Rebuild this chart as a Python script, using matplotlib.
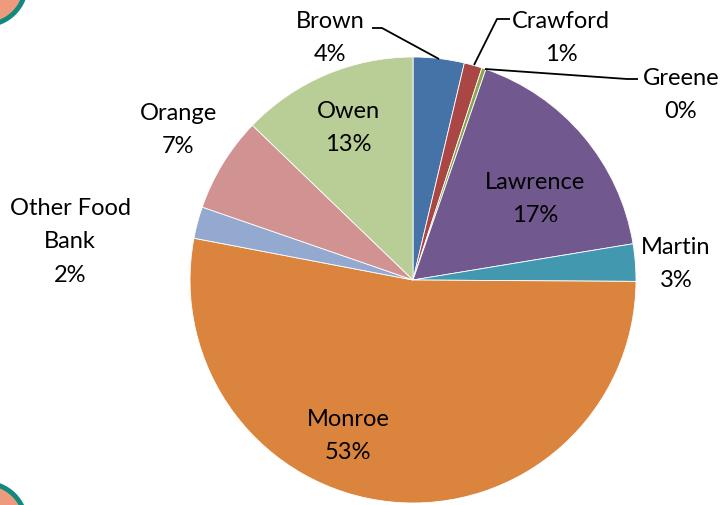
import matplotlib
matplotlib.use("Agg")
import matplotlib.pyplot as plt
from matplotlib.patches import Circle

plt.rcParams['font.family'] = ['Lato', 'DejaVu Sans']

# ---- data ----
categories = ["Brown", "Crawford", "Greene", "Lawrence", "Martin",
              "Monroe", "Other Food\nBank", "Orange", "Owen"]
shares = [3.7, 1.3, 0.3, 17.1, 2.7, 52.9, 2.3, 6.9, 12.8]
pct_labels = ["4%", "1%", "0%", "17%", "3%", "53%", "2%", "7%", "13%"]
colors = ["#4572A7", "#AA4643", "#89A54E", "#71588F", "#4198AF",
          "#DB843D", "#93A9CF", "#D19392", "#B9CD96"]

# ---- layout (pixel positions in the 722x506 canvas) ----
W, H = 722, 506
CX, CY, R = 413, 281, 223
label_px = [(330, 38), (561, 38), (681, 95), (535, 199), (676, 264),
            (348, 436), (70, 242), (178, 130), (348, 128)]
# leader lines (pixel polylines) for the small slices
leaders = {0: [(372, 29), (382, 29), (439, 60)],
           1: [(510, 20), (497, 20), (474, 66)],
           2: [(638, 80), (627, 80), (485, 70)]}


def px(x, y):
    return (x - CX) / R, (CY - y) / R


fig = plt.figure(figsize=(W / 100, H / 100), dpi=100)
ax = fig.add_axes([0, 0, 1, 1])
ax.axis('off')

ax.pie(shares, colors=colors, startangle=90, counterclock=False,
       radius=1.0, center=(0, 0),
       wedgeprops=dict(edgecolor='white', linewidth=0.6))
ax.set_xlim(-CX / R, (W - CX) / R)
ax.set_ylim((CY - H) / R, CY / R)
ax.set_aspect('auto')

for i, (name, pct) in enumerate(zip(categories, pct_labels)):
    x, y = px(*label_px[i])
    ax.text(x, y, f"{name}\n{pct}", ha='center', va='center',
            multialignment='center', fontsize=17, linespacing=1.72,
            color='black')

for i, pts in leaders.items():
    xs, ys = zip(*[px(a, b) for a, b in pts])
    ax.plot(xs, ys, color='black', linewidth=1.3, solid_capstyle='butt')

# decorative corner circles
for (cx, cy) in [(-15, -15), (-15, 525)]:
    x, y = px(cx, cy)
    ax.add_patch(Circle((x, y), 41 / R, facecolor='#EE9A7C',
                        edgecolor='#11897F', linewidth=3.5, clip_on=True))

fig.savefig("out.png", dpi=100)
